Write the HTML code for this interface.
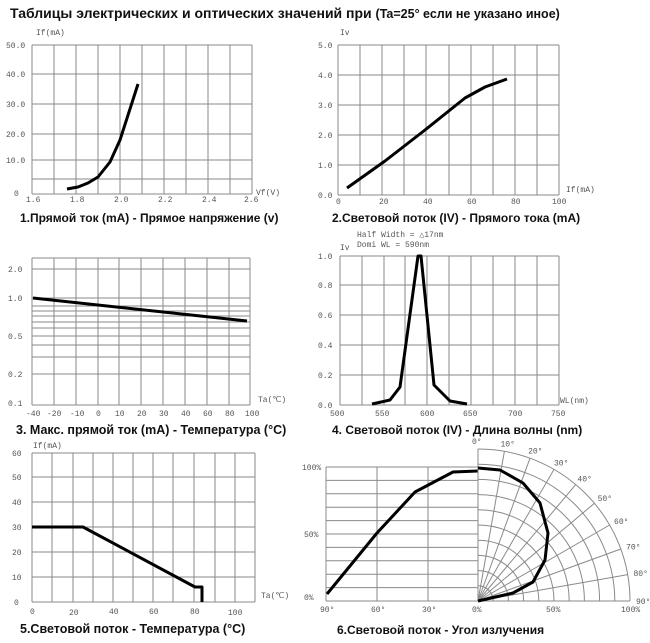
<!DOCTYPE html>
<html><head><meta charset="utf-8"><style>
body{margin:0;background:#fff;width:650px;height:643px;overflow:hidden}
svg{display:block}
.t{font-family:"Liberation Mono",monospace;font-size:8px;fill:#555}
.c{font-family:"Liberation Sans",sans-serif;font-size:12px;font-weight:bold;fill:#111}
.g{stroke:#8a8a8a;stroke-width:1;fill:none}
.k{stroke:#000;stroke-width:3;fill:none;stroke-linejoin:round}
</style></head><body>
<svg id="s" width="650" height="643" xmlns="http://www.w3.org/2000/svg">
<text x="10" y="18" style="font-family:'Liberation Sans',sans-serif;font-size:14px;font-weight:bold" fill="#111">Таблицы электрических и оптических значений при <tspan style="font-size:12.5px">(Ta=25° если не указано иное)</tspan></text>
<!-- chart1 -->
<text class="t" x="36" y="35">If(mA)</text>
<text class="t" x="6" y="48">50.0</text><text class="t" x="6" y="77">40.0</text><text class="t" x="6" y="107">30.0</text><text class="t" x="6" y="137">20.0</text><text class="t" x="6" y="163">10.0</text><text class="t" x="14" y="196">0</text>
<text class="t" x="26" y="202">1.6</text><text class="t" x="70" y="202">1.8</text><text class="t" x="114" y="202">2.0</text><text class="t" x="158" y="202">2.2</text><text class="t" x="202" y="202">2.4</text><text class="t" x="244" y="202">2.6</text>
<text class="t" x="256" y="195">Vf(V)</text>
<text class="c" x="20" y="222">1.Прямой ток (mA) -  Прямое напряжение (v)</text>
<!-- chart2 -->
<text class="t" x="340" y="35">Iv</text>
<text class="t" x="318" y="48">5.0</text><text class="t" x="318" y="78">4.0</text><text class="t" x="318" y="108">3.0</text><text class="t" x="318" y="138">2.0</text><text class="t" x="318" y="168">1.0</text><text class="t" x="318" y="198">0.0</text>
<text class="t" x="336" y="204">0</text><text class="t" x="379" y="204">20</text><text class="t" x="423" y="204">40</text><text class="t" x="467" y="204">60</text><text class="t" x="511" y="204">80</text><text class="t" x="552" y="204">100</text>
<text class="t" x="566" y="192">If(mA)</text>
<text class="c" x="332" y="222">2.Световой поток (IV) - Прямого тока (mA)</text>
<!-- chart3 -->
<text class="t" x="8" y="272">2.0</text><text class="t" x="8" y="301">1.0</text><text class="t" x="8" y="339">0.5</text><text class="t" x="8" y="377">0.2</text><text class="t" x="8" y="406">0.1</text>
<g class="t"><text x="26" y="416">-40</text><text x="47" y="416">-20</text><text x="70" y="416">-10</text><text x="96" y="416">0</text><text x="115" y="416">10</text><text x="137" y="416">20</text><text x="159" y="416">30</text><text x="181" y="416">40</text><text x="203" y="416">60</text><text x="225" y="416">80</text><text x="245" y="416">100</text></g>
<text class="t" x="258" y="402">Ta(℃)</text>
<text class="c" x="16" y="434" style="font-size:12.5px">3. Макс. прямой ток (mA) - Температура (°C)</text>
<!-- chart4 -->
<text class="t" x="357" y="237">Half Width  = △17nm</text>
<text class="t" x="357" y="247">Domi WL = 590nm</text>
<text class="t" x="340" y="250">Iv</text>
<text class="t" x="318" y="259">1.0</text><text class="t" x="318" y="288">0.8</text><text class="t" x="318" y="318">0.6</text><text class="t" x="318" y="348">0.4</text><text class="t" x="318" y="378">0.2</text><text class="t" x="318" y="408">0.0</text>
<text class="t" x="330" y="416">500</text><text class="t" x="375" y="416">550</text><text class="t" x="420" y="416">600</text><text class="t" x="463" y="416">650</text><text class="t" x="508" y="416">700</text><text class="t" x="551" y="416">750</text>
<text class="t" x="560" y="403">WL(nm)</text>
<text class="c" x="332" y="434">4. Световой поток (IV) - Длина волны (nm)</text>
<!-- chart5 -->
<text class="t" x="33" y="448">If(mA)</text>
<text class="t" x="12" y="456">60</text><text class="t" x="12" y="480">50</text><text class="t" x="12" y="505">40</text><text class="t" x="12" y="530">30</text><text class="t" x="12" y="555">20</text><text class="t" x="12" y="580">10</text><text class="t" x="14" y="605">0</text>
<text class="t" x="30" y="614">0</text><text class="t" x="69" y="615">20</text><text class="t" x="109" y="614">40</text><text class="t" x="149" y="614">60</text><text class="t" x="190" y="614">80</text><text class="t" x="228" y="615">100</text>
<text class="t" x="261" y="598">Ta(℃)</text>
<text class="c" x="20" y="633" style="font-size:12.5px">5.Световой поток - Температура (°C)</text>
<!-- chart6 -->
<g class="t"><text x="302" y="470">100%</text><text x="304" y="537">50%</text><text x="304" y="600">0%</text>
<text x="320" y="612">90°</text><text x="371" y="612">60°</text><text x="422" y="612">30°</text><text x="472" y="612">0%</text><text x="546" y="612">50%</text><text x="621" y="612">100%</text></g>
<text class="c" x="337" y="634">6.Световой поток - Угол излучения</text>
</svg>
<script>
var s=document.getElementById('s'),NS='http://www.w3.org/2000/svg';
function el(n,a){var e=document.createElementNS(NS,n);for(var k in a)e.setAttribute(k,a[k]);s.appendChild(e);return e;}
function grid(xs,ys){var x0=xs[0],x1=xs[xs.length-1],y0=ys[0],y1=ys[ys.length-1];
xs.forEach(function(x){el('line',{x1:x,x2:x,y1:y0,y2:y1,'class':'g'})});
ys.forEach(function(y){el('line',{x1:x0,x2:x1,y1:y,y2:y,'class':'g'})});}
function pl(p){el('polyline',{points:p,'class':'k'});}
var X1=[32,54,76,98,120,142,164,186,208,230,252];
grid(X1,[45,74,104,134,160,179,194]);
pl('67,189 78,187 88,183 98,177 110,162 120,140 138,84');
var X2=[338,360,382,404,426,449,471,493,515,537,559];
grid(X2,[45,75,105,135,165,195]);
pl('347,188 385,161 425,130 465,98 485,87 507,79');
grid([32,54,76,98,119,141,163,185,207,229,250],[258,269,298,306,311,316,322,328,336,345,357,374,405]);
pl('33,298 247,321');
grid([340,362,384,405,427,449,471,493,515,537,559],[256,285,315,345,375,405]);
pl('372,404 390,400 400,387 418,256 421,256 434,385 450,401 467,404');
grid([32,52,73,93,113,133,153,173,194,215,235,255],[453,477,502,527,552,577,602]);
pl('32,527 83,527 195,587 202,587 202,602');
// chart6 left
var ys=[];for(var i=0;i<=10;i++)ys.push(467+i*13.4);
grid([326,377,428,478],ys);
pl('327,594 377,533 415,492 453,472 478,471');
// polar
var cx=478,cy=601,R=152;
for(var r=1;r<=10;r++){var rr=R*r/10;el('path',{d:'M'+cx+','+(cy-rr)+' A'+rr+','+rr+' 0 0 1 '+(cx+rr)+','+cy,'class':'g'});}
for(var a=0;a<=90;a+=10){var t=a*Math.PI/180;el('line',{x1:cx,y1:cy,x2:cx+R*Math.sin(t),y2:cy-R*Math.cos(t),'class':'g'});
var tx=el('text',{x:cx+(R+12)*Math.sin(t)-6,y:cy-(R+8)*Math.cos(t)+3,'class':'t'});tx.textContent=a+'°';}
pl('478,468 500,470 523,483 540,503 548,533 545,560 533,582 513,593 478,601');
</script>
</body></html>
